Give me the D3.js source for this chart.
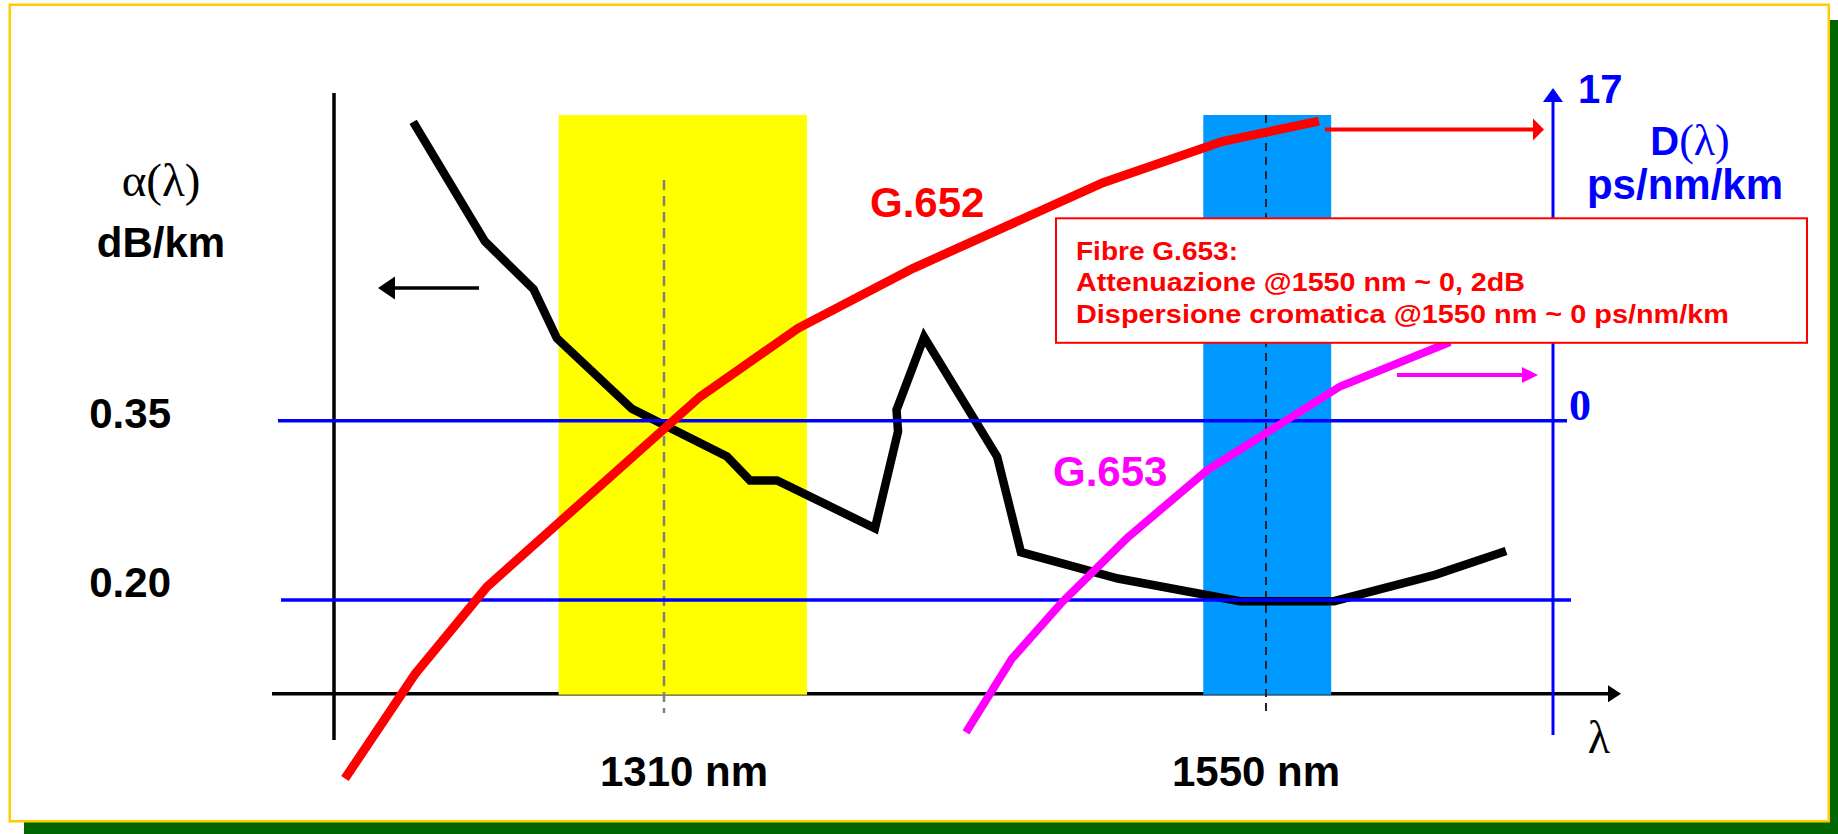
<!DOCTYPE html>
<html>
<head>
<meta charset="utf-8">
<script src="https://cdn.jsdelivr.net/npm/d3@7"></script>
<style>
  html, body { margin: 0; padding: 0; background: #fff; overflow: hidden; }
  text { font-family: "Liberation Sans", Arial, sans-serif; }
</style>
</head>
<body>
<svg id="chart" width="1838" height="834"></svg>
<script>
// Wavelength markers (nm) and their labels
const wavelengthTicks = [1310, 1550];
const wavelengthLabels = ["1310 nm", "1550 nm"];

// Low-loss transmission windows (nm)
const windowStart = [1268, 1525];
const windowEnd = [1367, 1576];

// Attenuation reference levels (dB/km)
const attenuationLevels = [0.35, 0.20];
const attenuationLabels = ["0.35", "0.20"];

// Dispersion axis ticks (ps/nm/km)
const dispersionTicks = [0, 17];
const dispersionLabels = ["0", "17"];

// Attenuation α(λ) in dB/km
const lossLambda = [1210, 1238.6, 1258, 1267.3, 1297.2, 1335.1, 1344.3, 1355.1, 1394.1, 1403.3, 1402.7, 1413.7, 1442.8, 1452.3, 1491, 1539.6, 1577.1, 1617.4, 1645.7];
const lossAlpha = [0.60, 0.50, 0.46, 0.419, 0.36, 0.32, 0.30, 0.30, 0.26, 0.341, 0.359, 0.42, 0.32, 0.24, 0.218, 0.199, 0.199, 0.221, 0.241];

// Chromatic dispersion D(λ) of G.652 fibre, ps/nm/km
const g652Lambda = [1182.8, 1210.7, 1239.4, 1324.4, 1363.4, 1409.3, 1485, 1532.5, 1571.1];
const g652D = [-20.9, -14.8, -9.7, 1.4, 5.4, 8.9, 13.9, 16.3, 17.5];

// Chromatic dispersion D(λ) of G.653 fibre, ps/nm/km
const g653Lambda = [1430.4, 1448.7, 1468.7, 1495, 1526.5, 1579.5, 1623.4];
const g653D = [-18.2, -13.9, -10.6, -6.8, -2.9, 2.0, 4.6];

// Text of the G.653 note
const noteLines = [
  "Fibre G.653:",
  "Attenuazione @1550 nm ~ 0, 2dB",
  "Dispersione cromatica @1550 nm ~ 0 ps/nm/km"
];

const svg = d3.select("#chart");

// Scales: wavelength -> x, attenuation -> y (left), dispersion -> y (right)
const x = d3.scaleLinear().domain([1310, 1550]).range([664, 1266]);
const yA = d3.scaleLinear().domain([0.20, 0.35]).range([600, 420.7]);
const yD = d3.scaleLinear().domain([0, 17]).range([420.7, 129.6]);

// Layout
const leftAxisX = 334, rightAxisX = 1553;
const baseY = 693.7;
const bandTop = 115;
const serif = "'Liberation Serif', 'Times New Roman', serif";

function hArrow(g, x1, x2, y, w, headLen, headHalf, color) {
  const dir = Math.sign(x2 - x1);
  g.append("line")
    .attr("x1", x1).attr("x2", x2 - dir * (headLen - 1))
    .attr("y1", y).attr("y2", y)
    .attr("stroke", color).attr("stroke-width", w);
  g.append("path")
    .attr("d", `M${x2},${y}L${x2 - dir * headLen},${y - headHalf}L${x2 - dir * headLen},${y + headHalf}Z`)
    .attr("fill", color);
}

// Slide frame with drop shadow
svg.append("rect").attr("x", 24).attr("y", 20).attr("width", 1838).attr("height", 834).attr("fill", "#006600");
svg.append("rect").attr("x", 9.75).attr("y", 4.75).attr("width", 1819).attr("height", 816.5)
  .attr("fill", "#ffffff").attr("stroke", "#FFCC00").attr("stroke-width", 2.5);

const g = svg.append("g");

// Wavelength axis with arrow
hArrow(g, 272, 1621, baseY, 3.5, 13, 8.5, "#000");
// Attenuation axis
g.append("line").attr("x1", leftAxisX).attr("x2", leftAxisX).attr("y1", 93).attr("y2", 740)
  .attr("stroke", "#000").attr("stroke-width", 3.5);

// Transmission windows
const windowColors = ["#FFFF00", "#0099FF"];
g.selectAll("rect.band")
  .data(windowStart.map((s, i) => ({ s, e: windowEnd[i], c: windowColors[i] })))
  .join("rect")
  .attr("class", "band")
  .attr("x", d => x(d.s)).attr("width", d => x(d.e) - x(d.s))
  .attr("y", bandTop).attr("height", baseY + 1 - bandTop)
  .attr("fill", d => d.c);

// Dashed markers at 1310 and 1550 nm
const dashStyle = [
  { top: 180, bottom: 713, color: "#808080", dash: "10,6", w: 2.5 },
  { top: bandTop, bottom: 711, color: "#222222", dash: "8,6", w: 2 }
];
wavelengthTicks.forEach((t, i) => {
  const s = dashStyle[i];
  g.append("line").attr("x1", x(t)).attr("x2", x(t)).attr("y1", s.top).attr("y2", s.bottom)
    .attr("stroke", s.color).attr("stroke-width", s.w).attr("stroke-dasharray", s.dash);
});

// Attenuation curve
const lossLine = d3.line().x(d => x(d[0])).y(d => yA(d[1]));
g.append("path")
  .attr("d", lossLine(lossLambda.map((l, i) => [l, lossAlpha[i]])))
  .attr("fill", "none").attr("stroke", "#000").attr("stroke-width", 8.5)
  .attr("stroke-linejoin", "miter");

// Attenuation reference levels
const levelExtent = [[278, 1567], [281, 1571]];
attenuationLevels.forEach((v, i) => {
  g.append("line").attr("x1", levelExtent[i][0]).attr("x2", levelExtent[i][1])
    .attr("y1", yA(v)).attr("y2", yA(v))
    .attr("stroke", "#0000FF").attr("stroke-width", 3.5);
});

// Dispersion axis (vertical, arrow up)
g.append("line").attr("x1", rightAxisX).attr("x2", rightAxisX).attr("y1", 735).attr("y2", 100)
  .attr("stroke", "#0000FF").attr("stroke-width", 3);
g.append("path")
  .attr("d", `M${rightAxisX},88L${rightAxisX - 10},102L${rightAxisX + 10},102Z`)
  .attr("fill", "#0000FF");

// Dispersion curves
const dispLine = d3.line().x(d => x(d[0])).y(d => yD(d[1]));
g.append("path")
  .attr("d", dispLine(g652Lambda.map((l, i) => [l, g652D[i]])))
  .attr("fill", "none").attr("stroke", "#FF0000").attr("stroke-width", 9);
g.append("path")
  .attr("d", dispLine(g653Lambda.map((l, i) => [l, g653D[i]])))
  .attr("fill", "none").attr("stroke", "#FF00FF").attr("stroke-width", 8);

// Axis pointers
hArrow(g, 479, 378, 288, 3.5, 17, 11.5, "#000");
hArrow(g, 1325, 1544, yD(17), 4, 11, 11, "#FF0000");
hArrow(g, 1397, 1538, 375, 4, 16, 8, "#FF00FF");

// Note box
const note = g.append("g");
note.append("rect").attr("x", 1056).attr("y", 218.3).attr("width", 751).attr("height", 124.5)
  .attr("fill", "#fff").attr("stroke", "#FF0000").attr("stroke-width", 2);
const noteWidths = [162, 449, 653];
noteLines.forEach((t, i) => {
  note.append("text").text(t)
    .attr("x", 1076).attr("y", 259.5 + i * 31.6)
    .attr("font-family", "'DejaVu Sans', Verdana, sans-serif")
    .attr("font-weight", "bold").attr("font-size", 25)
    .attr("fill", "#FF0000")
    .attr("textLength", noteWidths[i]).attr("lengthAdjust", "spacingAndGlyphs");
});

// Left axis title
g.append("text").text("α(λ)").attr("x", 161).attr("y", 196).attr("text-anchor", "middle")
  .style("font-family", serif).attr("font-size", 47);
g.append("text").text("dB/km").attr("x", 161).attr("y", 257).attr("text-anchor", "middle")
  .attr("font-weight", "bold").attr("font-size", 42);

// Attenuation level labels
const levelLabelY = [428, 597];
attenuationLabels.forEach((t, i) => {
  g.append("text").text(t).attr("x", 171).attr("y", levelLabelY[i]).attr("text-anchor", "end")
    .attr("font-weight", "bold").attr("font-size", 42).attr("fill", "#000");
});

// Wavelength labels
const wlLabelX = [600, 1172];
wavelengthLabels.forEach((t, i) => {
  g.append("text").text(t).attr("x", wlLabelX[i]).attr("y", 786)
    .attr("font-weight", "bold").attr("font-size", 42).attr("fill", "#000");
});
g.append("text").text("λ").attr("x", 1599).attr("y", 753).attr("text-anchor", "middle")
  .style("font-family", serif).attr("font-size", 46);

// Fibre labels
g.append("text").text("G.652").attr("x", 870).attr("y", 217)
  .attr("font-weight", "bold").attr("font-size", 42).attr("fill", "#FF0000");
g.append("text").text("G.653").attr("x", 1053).attr("y", 486)
  .attr("font-weight", "bold").attr("font-size", 42).attr("fill", "#FF00FF");

// Dispersion axis labels
g.append("text").text(dispersionLabels[1]).attr("x", 1578).attr("y", 103)
  .attr("font-weight", "bold").attr("font-size", 40).attr("fill", "#0000FF");
g.append("text").text(dispersionLabels[0]).attr("x", 1569).attr("y", yD(dispersionTicks[0]) - 1)
  .style("font-family", serif)
  .attr("font-weight", "bold").attr("font-size", 44).attr("fill", "#0000FF");
const dTitle = g.append("text").attr("x", 1690).attr("y", 155).attr("text-anchor", "middle")
  .attr("font-size", 40).attr("fill", "#0000FF");
dTitle.append("tspan").text("D").attr("font-weight", "bold");
dTitle.append("tspan").text("(λ)").style("font-family", serif).attr("font-size", 44);
g.append("text").text("ps/nm/km").attr("x", 1685).attr("y", 199).attr("text-anchor", "middle")
  .attr("font-weight", "bold").attr("font-size", 42).attr("fill", "#0000FF");
</script>
</body>
</html>
